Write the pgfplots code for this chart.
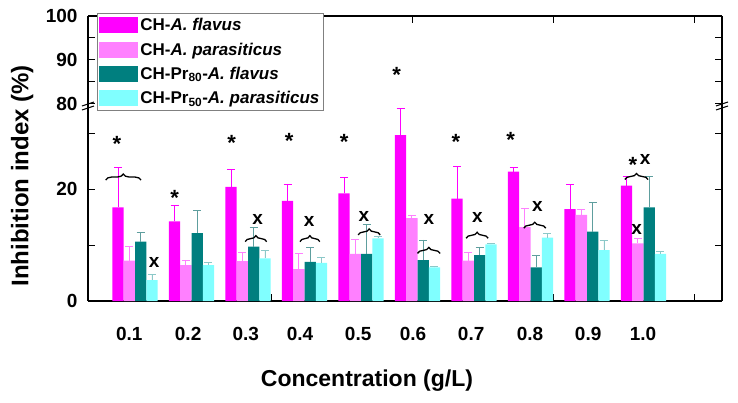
\documentclass[border=0pt]{standalone}
\usepackage{pgfplots}
\pgfplotsset{compat=1.18}
\usepackage{fontspec}
\setmainfont{Liberation Sans}
\usetikzlibrary{decorations.pathreplacing}
\definecolor{cMag}{HTML}{FF00FF}
\definecolor{cPink}{HTML}{FF80FF}
\definecolor{cTeal}{HTML}{007F7F}
\definecolor{cCyan}{HTML}{80FFFF}
\definecolor{eTeal}{HTML}{5E9E9E}
\definecolor{eCyan}{HTML}{8CC8C8}
\pgfplotsset{
  mybar/.style={ybar, bar width=0.2, bar shift=0pt, draw=none, fill=#1,
    legend image code/.code={\path[fill=#1] (0pt,-8pt) rectangle (39pt,8pt);}},
  myerr/.style={error bars/.cd, y dir=plus, y explicit,
    error bar style={#1, line width=0.9pt},
    error mark options={rotate=90, #1, mark size=4pt, line width=0.9pt}},
}
\newcommand{\st}[2]{\node[font=\fontsize{22}{22}\selectfont\bfseries, inner sep=0pt, yshift=-4.8pt] at (axis cs:#1,#2) {*};}
\newcommand{\xx}[2]{\node[font=\fontsize{19}{19}\selectfont\bfseries, inner sep=0pt] at (axis cs:#1,#2) {x};}
\newcommand{\br}[3]{\draw[decorate, decoration={brace, amplitude=6pt}, line width=1.3pt] (axis cs:#1,#3) -- (axis cs:#2,#3);}
\begin{document}
\begin{tikzpicture}
\useasboundingbox (0,0) rectangle (738pt,402pt);
% upper part of the broken axis
\begin{axis}[
  at={(88pt,298pt)}, anchor=south west,
  scale only axis, width=634pt, height=88pt,
  xmin=0.168, xmax=11.389, ymin=80, ymax=100,
  axis x line*=top,
  xtick={0.91,3.41,5.91,8.41,10.91}, xticklabels={},
  ytick={80,90,100}, yticklabels={80,90,100},
  minor ytick={85,95},
  tick align=inside, major tick length=7pt, minor tick length=7pt,
  tick style={black, line width=1pt},
  axis line style={line width=1.1pt},
  yticklabel style={font=\fontsize{19}{22}\selectfont\bfseries, xshift=-7pt},
]
\end{axis}
% lower part
\begin{axis}[
  at={(88pt,101pt)}, anchor=south west,
  scale only axis, width=634pt, height=197pt,
  xmin=0.168, xmax=11.389, ymin=0, ymax=35.18,
  axis x line*=bottom,
  clip=false,
  xtick={0.91,3.41,5.91,8.41,10.91}, xticklabels={},
  extra x ticks={0.90,1.94,2.96,3.92,4.95,5.92,6.95,7.99,9.02,9.99},
  extra x tick labels={0.1,0.2,0.3,0.4,0.5,0.6,0.7,0.8,0.9,1.0},
  extra x tick style={major tick length=0pt},
  ytick={0,10,20,30}, yticklabels={0,,20,},
  tick align=inside, major tick length=7pt,
  tick style={black, line width=1pt},
  axis line style={line width=1.1pt},
  yticklabel style={font=\fontsize{19}{22}\selectfont\bfseries, xshift=-7pt},
  xticklabel style={font=\fontsize{19}{22}\selectfont\bfseries, anchor=center, yshift=-33pt},
  xlabel={Concentration (g/L)},
  xlabel style={font=\fontsize{23}{26}\selectfont\bfseries, at={(axis description cs:0.44,-0.406)}, anchor=center},
  ylabel={Inhibition index (\%)},
  ylabel style={font=\fontsize{24}{27}\selectfont\bfseries, at={(axis description cs:-0.104,0.635)}, anchor=center},
  legend style={at={(axis description cs:0.0142,1.462)}, anchor=north west,
    draw=gray, line width=0.8pt, fill=white,
    font=\fontsize{17}{19}\selectfont\bfseries,
    cells={anchor=west}, inner xsep=2pt, inner ysep=3pt, row sep=6.5pt},
]
\addplot[mybar=cMag, myerr=cMag] coordinates {
 (0.7,16.7) +- (0,7.1) (1.7,14.2) +- (0,2.9) (2.7,20.4) +- (0,3.1) (3.7,17.9) +- (0,3.0)
 (4.7,19.2) +- (0,2.9) (5.7,29.6) +- (0,4.8) (6.7,18.3) +- (0,5.7) (7.7,23.1) +- (0,0.8)
 (8.7,16.4) +- (0,4.4) (9.7,20.6) +- (0,1.7)};
\addlegendentry{CH-\textit{A. flavus}}
\addplot[mybar=cPink, myerr=cPink] coordinates {
 (0.9,7.2) +- (0,2.6) (1.9,6.4) +- (0,0.8) (2.9,7.1) +- (0,1.6) (3.9,5.7) +- (0,2.8)
 (4.9,8.4) +- (0,2.6) (5.9,14.8) +- (0,0.4) (6.9,7.2) +- (0,1.5) (7.9,13.2) +- (0,3.3)
 (8.9,15.4) +- (0,1.0) (9.9,10.3) +- (0,0.9)};
\addlegendentry{CH-\textit{A. parasiticus}}
\addplot[mybar=cTeal, myerr=eTeal] coordinates {
 (1.1,10.6) +- (0,1.6) (2.1,12.1) +- (0,4.0) (3.1,9.7) +- (0,3.4) (4.1,7.0) +- (0,2.6)
 (5.1,8.4) +- (0,5.2) (6.1,7.3) +- (0,3.6) (7.1,8.2) +- (0,1.3) (8.1,6.0) +- (0,2.1)
 (9.1,12.4) +- (0,5.2) (10.1,16.7) +- (0,5.6)};
\addlegendentry{CH-Pr\textsubscript{80}-\textit{A. flavus}}
\addplot[mybar=cCyan, myerr=eCyan] coordinates {
 (1.3,3.75) +- (0,1.05) (2.3,6.4) +- (0,0.4) (3.3,7.6) +- (0,1.4) (4.3,6.8) +- (0,1.0)
 (5.3,11.2) +- (0,0.4) (6.3,6.0) +- (0,0.2) (7.3,10.1) +- (0,0.2) (8.3,11.3) +- (0,0.8)
 (9.3,9.1) +- (0,1.7) (10.3,8.4) +- (0,0.5)};
\addlegendentry{CH-Pr\textsubscript{50}-\textit{A. parasiticus}}
% significance marks
\st{0.68}{28.9} \st{1.70}{19.3} \st{2.71}{29.0} \st{3.73}{29.5} \st{4.70}{29.3}
\st{5.63}{41.25} \st{6.68}{29.2} \st{7.65}{29.6} \st{9.81}{25.2}
\xx{1.34}{6.8} \xx{3.17}{14.5} \xx{4.08}{14.2} \xx{5.05}{15.1} \xx{6.20}{14.6}
\xx{7.06}{14.9} \xx{8.12}{16.8} \xx{10.03}{25.2} \xx{9.88}{12.7}
\br{0.48}{1.106}{21.6} \br{2.95}{3.33}{10.6} \br{3.92}{4.27}{10.6}
\br{4.95}{5.34}{11.8} \br{6.00}{6.40}{8.5} \br{6.86}{7.25}{11.2}
\br{7.88}{8.27}{13.0} \br{9.67}{10.08}{21.7}
% axis break marks
\draw[line width=1pt] ([xshift=-6pt,yshift=-2pt]axis description cs:0,1) -- ([xshift=6pt,yshift=2pt]axis description cs:0,1);
\draw[line width=1pt] ([xshift=-6pt,yshift=-6pt]axis description cs:0,1) -- ([xshift=6pt,yshift=-2pt]axis description cs:0,1);
\draw[line width=1pt] ([xshift=-6pt,yshift=-2pt]axis description cs:1,1) -- ([xshift=6pt,yshift=2pt]axis description cs:1,1);
\draw[line width=1pt] ([xshift=-6pt,yshift=-6pt]axis description cs:1,1) -- ([xshift=6pt,yshift=-2pt]axis description cs:1,1);
\end{axis}
\end{tikzpicture}
\end{document}
